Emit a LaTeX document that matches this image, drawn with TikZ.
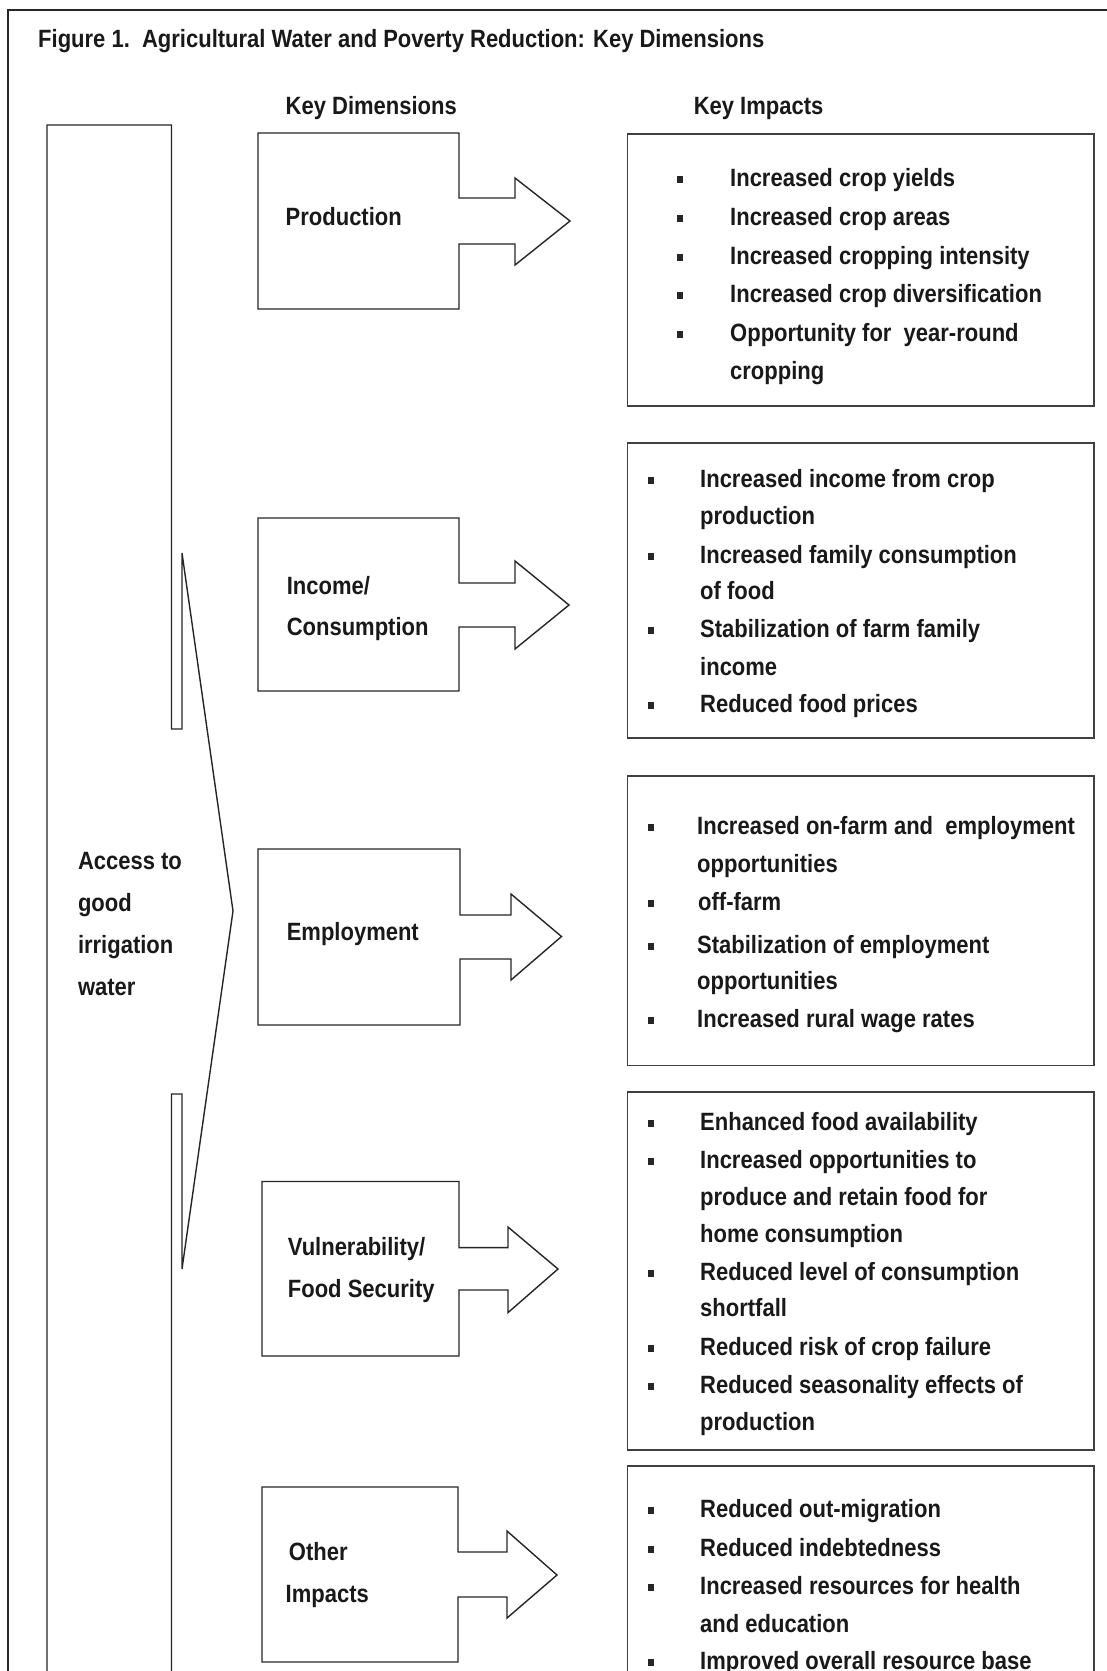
\documentclass[tikz,border=0pt]{standalone}
\usepackage{fontspec}
\newfontfamily\lab{Liberation Sans Bold}[FakeStretch=0.88]
\begin{document}
\begin{tikzpicture}[x=1pt,y=-1pt,
  txt/.style={font=\lab\fontsize{25}{38}\selectfont, text=black!90, inner sep=0, anchor=base west},
  bul/.style={fill=black!85, minimum width=5.5, minimum height=7, inner sep=0},
  ln/.style={draw=black!85, line width=1.4},
  bx/.style={draw=black!75, line width=1.8}]
\useasboundingbox (0,0) rectangle (1107,1671);
\fill[white] (0,0) rectangle (1107,1671);
\clip (0,0) rectangle (1107,1671);
% outer frame
\draw[line width=1.8, black!85] (8,10) rectangle (1130,1720);
% title and headings
\node[txt] (title) at (38,47) {Figure 1.\ \ Agricultural Water and Poverty Reduction: Key Dimensions};
\node[txt] (hdim) at (285.5,114.5) {Key Dimensions};
\node[txt] (himp) at (693.6,114.5) {Key Impacts};
% left brace-like shape
\draw[ln] (47,1720) -- (47,125) -- (171.5,125) -- (171.5,729) -- (182,729) -- (182,553) -- (233,911) coordinate (tip) -- (182,1269) -- (182,1094) -- (171.5,1094) -- (171.5,1720);
\node[txt] (acc1) at (77.8,869) {Access to};
\node[txt] (acc2) at (77.8,911.5) {good};
\node[txt] (acc3) at (77.8,953) {irrigation};
\node[txt] (acc4) at (77.8,995.6) {water};
% block arrows
\draw[ln] (258,133) -- (459,133) -- (459,198) -- (515,198) -- (515,178) -- (570,221) -- (515,265) -- (515,244) -- (459,244) -- (459,309) -- (258,309) -- cycle;
\draw[ln] (258,518) -- (459,518) -- (459,583) -- (515,583) -- (515,561) -- (569,605) -- (515,649) -- (515,627) -- (459,627) -- (459,691) -- (258,691) -- cycle;
\draw[ln] (258,849) -- (460,849) -- (460,915) -- (511,915) -- (511,894) -- (561.5,936.5) -- (511,980) -- (511,959) -- (460,959) -- (460,1025) -- (258,1025) -- cycle;
\draw[ln] (262,1181.5) -- (459,1181.5) -- (459,1247.6) -- (508,1247.6) -- (508,1227) -- (558,1269) -- (508,1312.6) -- (508,1290) -- (459,1290) -- (459,1356) -- (262,1356) -- cycle;
\draw[ln] (262,1487) -- (458,1487) -- (458,1552) -- (507,1552) -- (507,1531) -- (557,1575) -- (507,1618) -- (507,1597) -- (458,1597) -- (458,1662) -- (262,1662) -- cycle;
\node[txt] (d1) at (285.5,225) {Production};
\node[txt] (d2a) at (286.6,594) {Income/};
\node[txt] (d2b) at (286.6,635.5) {Consumption};
\node[txt] (d3) at (286.6,940) {Employment};
\node[txt] (d4a) at (287.7,1255.6) {Vulnerability/};
\node[txt] (d4b) at (287.7,1297) {Food Security};
\node[txt] (d5a) at (288.7,1560) {Other};
\node[txt] (d5b) at (285.5,1602) {Impacts};
% impact boxes
\draw[bx] (627.5,134) rectangle (1094,406);
\draw[bx] (627.5,443) rectangle (1094,738);
\draw[bx] (627.5,775.6) rectangle (1094,1065.4);
\draw[bx] (627.5,1092) rectangle (1094,1450);
\draw[bx] (627.5,1466) rectangle (1094,1720);
% box 1
\foreach \y [count=\i] in {178,217,256,294,333.5} \node[bul] (ba\i) at (680,\y+1) {};
\node[txt] (a1) at (730,186) {Increased crop yields};
\node[txt] (a2) at (730,225) {Increased crop areas};
\node[txt] (a3) at (730,264) {Increased cropping intensity};
\node[txt] (a4) at (730,302) {Increased crop diversification};
\node[txt] (a5) at (730,341.5) {Opportunity for\ \ year-round};
\node[txt] (a6) at (730,379) {cropping};
% box 2
\foreach \y [count=\i] in {479.4,555,629.6,704} \node[bul] (bb\i) at (651,\y+1) {};
\node[txt] (b1) at (700,487.4) {Increased income from crop};
\node[txt] (b2) at (700,524.7) {production};
\node[txt] (b3) at (700,563) {Increased family consumption};
\node[txt] (b4) at (700,599) {of food};
\node[txt] (b5) at (700,637.6) {Stabilization of farm family};
\node[txt] (b6) at (700,675) {income};
\node[txt] (b7) at (700,712) {Reduced food prices};
% box 3
\foreach \y [count=\i] in {826.8,902.4,945,1019.6} \node[bul] (bc\i) at (651,\y+1) {};
\node[txt] (c1) at (697,834.8) {Increased on-farm and\ \ employment};
\node[txt] (c2) at (697,872) {opportunities};
\node[txt] (c3) at (698,910.4) {off-farm};
\node[txt] (c4) at (697,953) {Stabilization of employment};
\node[txt] (c5) at (697,989) {opportunities};
\node[txt] (c6) at (697,1027.6) {Increased rural wage rates};
% box 4
\foreach \y [count=\i] in {1122,1160,1272,1347,1385} \node[bul] (bd\i) at (651,\y+1) {};
\node[txt] (e1) at (700,1130) {Enhanced food availability};
\node[txt] (e2) at (700,1168) {Increased opportunities to};
\node[txt] (e3) at (700,1205.5) {produce and retain food for};
\node[txt] (e4) at (700,1242) {home consumption};
\node[txt] (e5) at (700,1280) {Reduced level of consumption};
\node[txt] (e6) at (700,1316) {shortfall};
\node[txt] (e7) at (700,1355) {Reduced risk of crop failure};
\node[txt] (e8) at (700,1393) {Reduced seasonality effects of};
\node[txt] (e9) at (700,1430) {production};
% box 5
\foreach \y [count=\i] in {1509.7,1548,1586,1661} \node[bul] (be\i) at (651,\y+1) {};
\node[txt] (f1) at (700,1517.7) {Reduced out-migration};
\node[txt] (f2) at (700,1556) {Reduced indebtedness};
\node[txt] (f3) at (700,1594) {Increased resources for health};
\node[txt] (f4) at (700,1632) {and education};
\node[txt] (f5) at (700,1669) {Improved overall resource base};
\end{tikzpicture}
\end{document}
